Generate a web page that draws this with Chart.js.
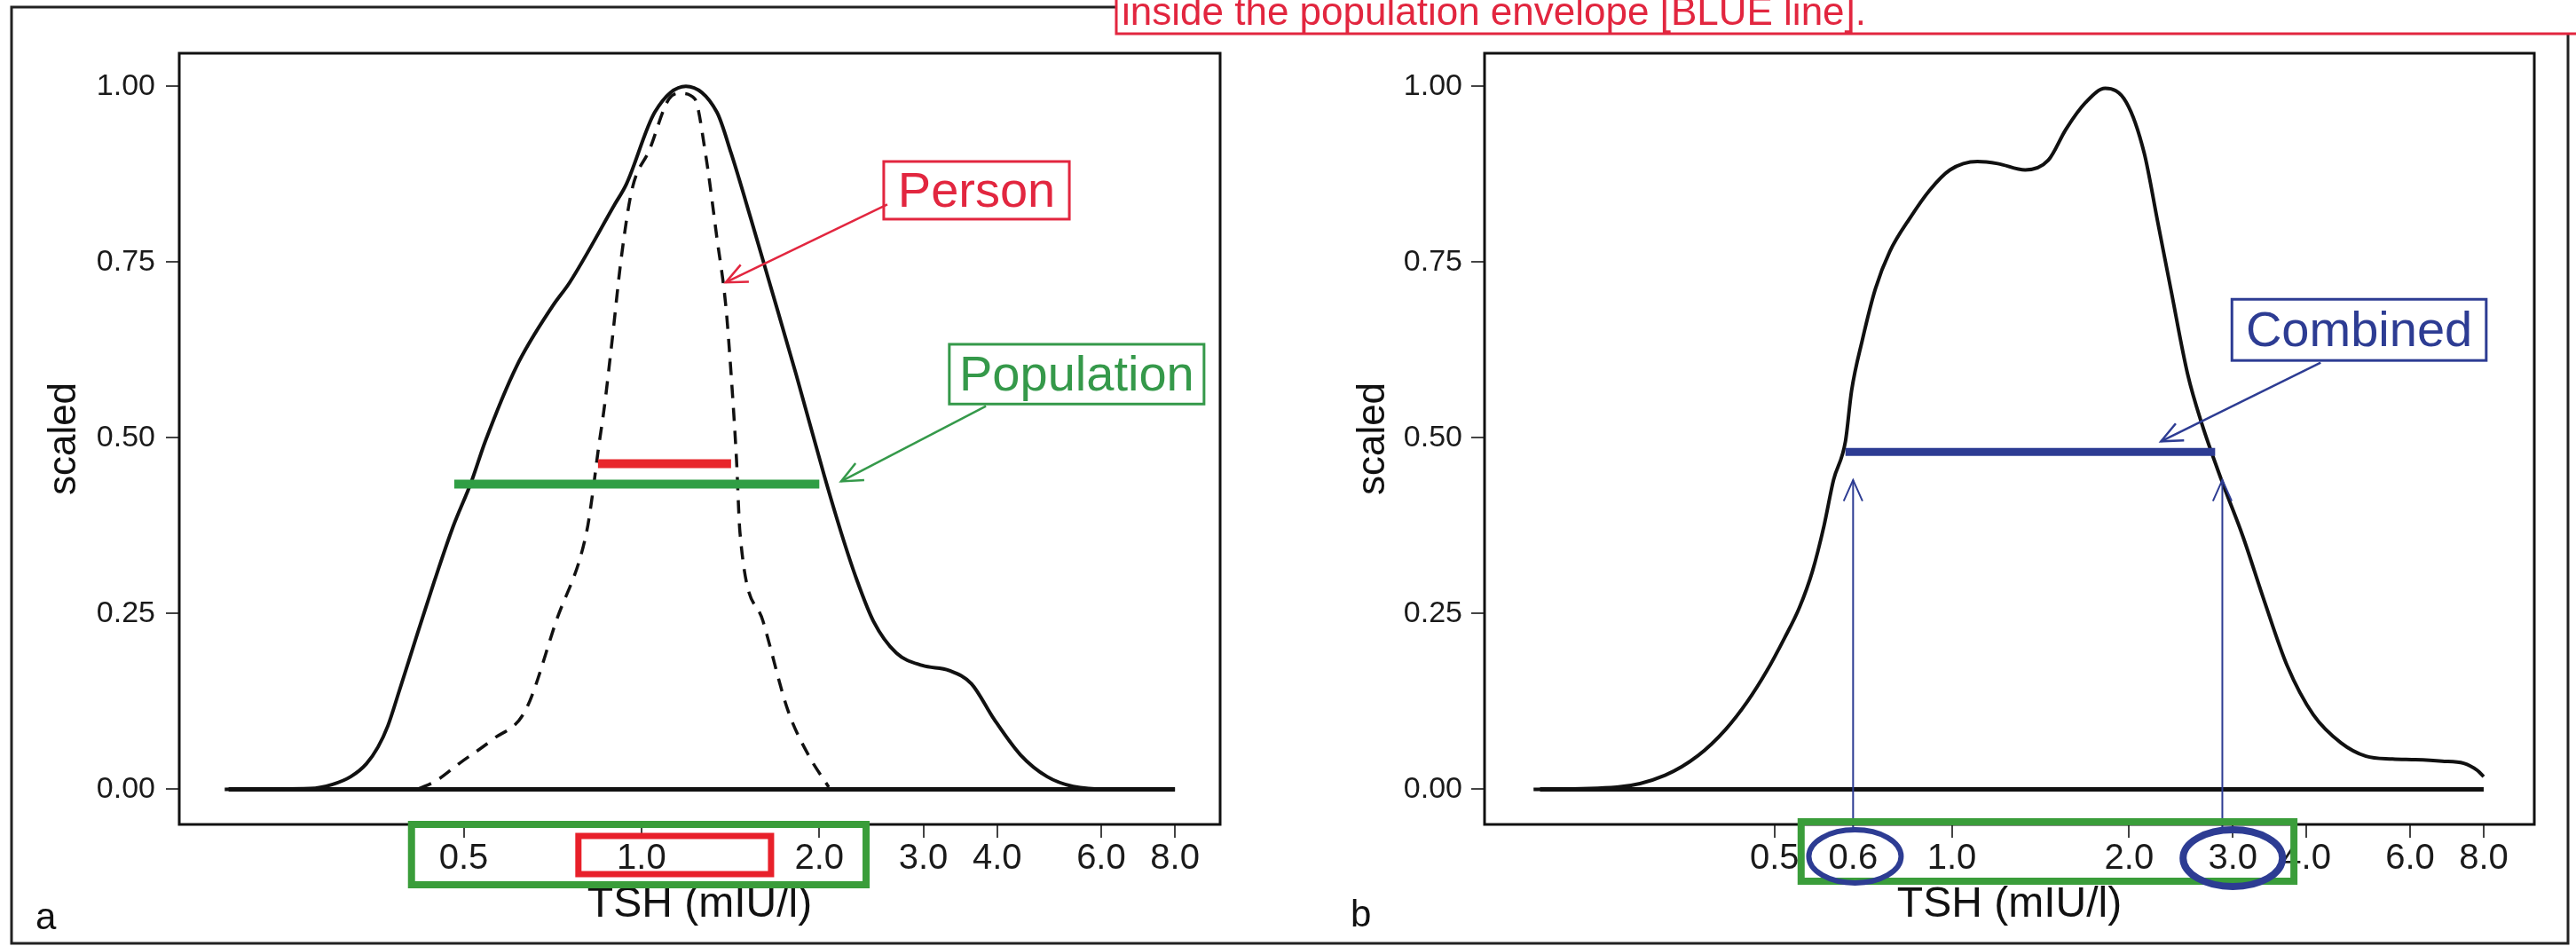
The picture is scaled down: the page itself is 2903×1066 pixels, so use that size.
<!DOCTYPE html>
<html>
<head>
<meta charset="utf-8">
<script src="https://cdn.jsdelivr.net/npm/chart.js@4.4.0/dist/chart.umd.min.js"></script>
<style>
  html, body { margin: 0; padding: 0; background: #fff; }
  #wrap { position: relative; width: 2903px; height: 1066px; }
  canvas { position: absolute; left: 0; top: 0; }
</style>
</head>
<body>
<div id="wrap">
  <canvas id="chartA" width="2903" height="1066"></canvas>
  <canvas id="chartB" width="2903" height="1066"></canvas>
</div>
<script>
// ---- data ----
const xTicks = [0.5, 1, 2, 3, 4, 6, 8];
const yTicks = [0, 0.25, 0.5, 0.75, 1];
const baseX = [0.2, 8];

// panel a: population density (solid) and one person (dashed)
const popX = [0.197, 0.275, 0.3, 0.322, 0.342, 0.358, 0.372, 0.389, 0.417, 0.446, 0.479, 0.515, 0.544, 0.614, 0.708, 0.756, 0.901, 0.943, 1.053, 1.189, 1.342, 1.418, 1.53, 1.64, 1.826, 2.039, 2.178, 2.31, 2.47, 2.7, 2.99, 3.32, 3.62, 3.95, 4.38, 4.86, 5.38, 6.2, 8.0];
const popY = [0, 0.001, 0.007, 0.018, 0.036, 0.06, 0.09, 0.14, 0.22, 0.296, 0.372, 0.437, 0.495, 0.601, 0.688, 0.721, 0.832, 0.861, 0.963, 1.0, 0.963, 0.905, 0.813, 0.726, 0.591, 0.446, 0.365, 0.3, 0.239, 0.194, 0.176, 0.169, 0.15, 0.1, 0.049, 0.018, 0.004, 0, 0];
const personX = [0.42, 0.447, 0.492, 0.56, 0.636, 0.717, 0.807, 0.827, 0.844, 0.865, 0.892, 0.924, 0.963, 1.032, 1.113, 1.164, 1.231, 1.283, 1.342, 1.389, 1.418, 1.448, 1.468, 1.606, 1.77, 1.916, 2.075];
const personY = [0.001, 0.011, 0.037, 0.071, 0.112, 0.239, 0.365, 0.422, 0.48, 0.543, 0.639, 0.755, 0.852, 0.91, 0.982, 0.99, 0.982, 0.905, 0.784, 0.688, 0.591, 0.47, 0.365, 0.239, 0.112, 0.049, 0.003];
const personRange = [0.844, 1.418], personLevel = 0.463;
const popRange = [0.482, 2.0], popLevel = 0.434;

// panel b: combined density
const combX = [0.195, 0.27, 0.326, 0.371, 0.413, 0.45, 0.485, 0.52, 0.551, 0.58, 0.607, 0.63, 0.66, 0.676, 0.705, 0.742, 0.785, 0.85, 0.917, 0.993, 1.106, 1.197, 1.333, 1.459, 1.563, 1.688, 1.822, 1.979, 2.122, 2.236, 2.354, 2.514, 2.658, 2.87, 3.12, 3.39, 3.71, 4.11, 4.58, 5.05, 5.6, 6.13, 6.8, 7.4, 7.8, 8.0];
const combY = [0, 0.003, 0.02, 0.048, 0.085, 0.125, 0.168, 0.215, 0.258, 0.31, 0.375, 0.44, 0.495, 0.567, 0.639, 0.712, 0.765, 0.813, 0.852, 0.881, 0.893, 0.89, 0.881, 0.895, 0.939, 0.977, 0.997, 0.977, 0.905, 0.808, 0.712, 0.591, 0.52, 0.44, 0.36, 0.269, 0.176, 0.106, 0.066, 0.047, 0.043, 0.042, 0.04, 0.037, 0.027, 0.018];
const combRange = [0.66, 2.8], combLevel = 0.48;
const combLimits = [0.68, 2.88], limitArrowTop = 0.44, limitLineFoot = -0.056;

const FONT = '"Liberation Sans", Arial, Helvetica, sans-serif';
const RED = '#e2263f', GREEN = '#35994a', BLUE = '#2d3c93';

const pts = (xs, ys) => xs.map((x, i) => ({ x, y: ys[i] }));
const flat = (xs, level) => xs.map(x => ({ x, y: level }));

function arrowHead(ctx, x1, y1, x2, y2, len) {
  const a = Math.atan2(y2 - y1, x2 - x1);
  ctx.beginPath();
  ctx.moveTo(x2 - len * Math.cos(a - 0.42), y2 - len * Math.sin(a - 0.42));
  ctx.lineTo(x2, y2);
  ctx.lineTo(x2 - len * Math.cos(a + 0.42), y2 - len * Math.sin(a + 0.42));
  ctx.stroke();
}

// boxed callout with an arrow, in data units
function callout(chart, n) {
  const { ctx, scales: { x, y } } = chart;
  const l = x.getPixelForValue(n.box[0]), r = x.getPixelForValue(n.box[1]);
  const t = y.getPixelForValue(n.box[3]), b = y.getPixelForValue(n.box[2]);
  ctx.save();
  ctx.fillStyle = '#fff';
  ctx.fillRect(l, t, r - l, b - t);
  ctx.strokeStyle = n.color; ctx.lineWidth = 3;
  ctx.strokeRect(l, t, r - l, b - t);
  ctx.font = '56px ' + FONT;
  ctx.fillStyle = n.color; ctx.textAlign = 'center'; ctx.textBaseline = 'middle';
  ctx.fillText(n.text, (l + r) / 2, (t + b) / 2 + 3);
  const x1 = x.getPixelForValue(n.from[0]), y1 = y.getPixelForValue(n.from[1]);
  const x2 = x.getPixelForValue(n.to[0]), y2 = y.getPixelForValue(n.to[1]);
  ctx.lineWidth = 2.5;
  ctx.beginPath(); ctx.moveTo(x1, y1); ctx.lineTo(x2, y2); ctx.stroke();
  arrowHead(ctx, x1, y1, x2, y2, 26);
  ctx.restore();
}

// rectangle under the x tick labels: x in data units, y in px below the plot
function tickBox(chart, x0, x1, dy0, dy1, color, lw) {
  const { ctx, scales: { x }, chartArea: a } = chart;
  const l = x.getPixelForValue(x0), r = x.getPixelForValue(x1);
  ctx.save();
  ctx.strokeStyle = color; ctx.lineWidth = lw;
  ctx.strokeRect(l, a.bottom + dy0, r - l, dy1 - dy0);
  ctx.restore();
}

function tickRing(chart, xv, dy, rx, ry, lw) {
  const { ctx, scales: { x }, chartArea: a } = chart;
  ctx.save();
  ctx.strokeStyle = BLUE; ctx.lineWidth = lw;
  ctx.beginPath();
  ctx.ellipse(x.getPixelForValue(xv), a.bottom + dy, rx, ry, 0, 0, Math.PI * 2);
  ctx.stroke();
  ctx.restore();
}

function panelBox(chart, letter, lx, ly) {
  const { ctx, chartArea: a } = chart;
  ctx.save();
  ctx.strokeStyle = '#111'; ctx.lineWidth = 3;
  ctx.strokeRect(a.left, a.top, a.right - a.left, a.bottom - a.top);
  ctx.fillStyle = '#111'; ctx.font = '42px ' + FONT;
  ctx.textAlign = 'left'; ctx.textBaseline = 'alphabetic';
  ctx.fillText(letter, lx, ly);
  ctx.restore();
}

function scalesFor(xMin, xMax, yWidth, titlePad, labelPad) {
  const grid = { drawOnChartArea: false, drawTicks: true, tickLength: 15, color: '#444', lineWidth: 2 };
  return {
    x: {
      type: 'logarithmic', min: xMin, max: xMax,
      afterBuildTicks: s => { s.ticks = xTicks.map(v => ({ value: v })); },
      afterFit: s => { s.height = 137; },
      ticks: { callback: v => Number(v).toFixed(1), autoSkip: false, maxRotation: 0, padding: 0,
               color: '#1a1a1a', font: { size: 40, family: FONT } },
      grid: grid, border: { display: false },
      title: { display: true, text: 'TSH (mIU/l)', color: '#111', font: { size: 48, family: FONT },
               padding: { top: 0, bottom: 17 } }
    },
    y: {
      min: -0.05, max: 1.047,
      afterBuildTicks: s => { s.ticks = yTicks.map(v => ({ value: v })); },
      afterFit: s => { s.width = yWidth; },
      ticks: { callback: v => Number(v).toFixed(2), padding: labelPad, color: '#1a1a1a',
               font: { size: 34, family: FONT } },
      grid: grid, border: { display: false },
      title: { display: true, text: 'scaled', color: '#111', font: { size: 44, family: FONT },
               padding: { top: titlePad, bottom: 0 } }
    }
  };
}

const common = { responsive: false, animation: false, events: [], devicePixelRatio: 1 };
const lineDefaults = { pointRadius: 0, fill: false, cubicInterpolationMode: 'monotone' };

// ---- panel a ----
new Chart(document.getElementById('chartA'), {
  type: 'line',
  data: {
    datasets: [
      { ...lineDefaults, data: flat(personRange, personLevel), borderColor: '#e8262b', borderWidth: 10, borderCapStyle: 'butt' },
      { ...lineDefaults, data: flat(popRange, popLevel), borderColor: '#2f9e44', borderWidth: 10, borderCapStyle: 'butt' },
      { ...lineDefaults, data: pts(personX, personY), borderColor: '#111', borderWidth: 3.5, borderDash: [15, 11] },
      { ...lineDefaults, data: pts(popX, popY), borderColor: '#111', borderWidth: 4 },
      { ...lineDefaults, data: flat(baseX, 0), borderColor: '#111', borderWidth: 5 }
    ]
  },
  options: {
    ...common,
    parsing: false,
    layout: { padding: { left: 0, top: 60, right: 2903 - 1375, bottom: 0 } },
    scales: scalesFor(0.165, 9.54, 202, 46, 12),
    plugins: { legend: { display: false }, tooltip: { enabled: false } }
  },
  plugins: [{
    id: 'panelA',
    beforeDraw(chart) {
      const ctx = chart.ctx;
      ctx.save();
      ctx.fillStyle = '#fff'; ctx.fillRect(0, 0, 2903, 1066);
      // outer frame of the figure
      ctx.strokeStyle = '#222'; ctx.lineWidth = 3;
      ctx.beginPath();
      ctx.moveTo(1258, 8); ctx.lineTo(13, 8); ctx.lineTo(13, 1063); ctx.lineTo(2894, 1063); ctx.lineTo(2894, 38);
      ctx.stroke();
      // red note cut off at the top
      ctx.fillStyle = '#fff'; ctx.fillRect(1258, 0, 1660, 38);
      ctx.strokeStyle = RED; ctx.lineWidth = 3;
      ctx.strokeRect(1258, -10, 1700, 48);
      ctx.fillStyle = RED; ctx.font = '44px ' + FONT;
      ctx.textAlign = 'left'; ctx.textBaseline = 'alphabetic';
      ctx.fillText('inside the population envelope [BLUE line].', 1264, 28);
      ctx.restore();
    },
    afterDraw(chart) {
      panelBox(chart, 'a', 40, 1047);
      callout(chart, { text: 'Person', color: RED, box: [2.571, 5.3, 0.811, 0.893], from: [2.607, 0.832], to: [1.389, 0.721] });
      callout(chart, { text: 'Population', color: GREEN, box: [3.32, 8.96, 0.548, 0.633], from: [3.83, 0.545], to: [2.178, 0.438] });
      tickBox(chart, 0.408, 2.4, 0, 68, '#3a9d3a', 8);
      tickBox(chart, 0.782, 1.657, 13, 56, '#e8202a', 7);
    }
  }]
});

// ---- panel b ----
new Chart(document.getElementById('chartB'), {
  type: 'line',
  data: {
    datasets: [
      { ...lineDefaults, data: flat(combRange, combLevel), borderColor: BLUE, borderWidth: 9, borderCapStyle: 'butt' },
      { ...lineDefaults, data: [{ x: combLimits[0], y: limitLineFoot }, { x: combLimits[0], y: limitArrowTop }], borderColor: BLUE, borderWidth: 2, clip: false },
      { ...lineDefaults, data: [{ x: combLimits[1], y: limitLineFoot }, { x: combLimits[1], y: limitArrowTop }], borderColor: BLUE, borderWidth: 2, clip: false },
      { ...lineDefaults, data: pts(combX, combY), borderColor: '#111', borderWidth: 4 },
      { ...lineDefaults, data: flat(baseX, 0), borderColor: '#111', borderWidth: 5 }
    ]
  },
  options: {
    ...common,
    parsing: false,
    layout: { padding: { left: 1450, top: 60, right: 2903 - 2856, bottom: 0 } },
    scales: scalesFor(0.161, 9.75, 223, 71, 10),
    plugins: { legend: { display: false }, tooltip: { enabled: false } }
  },
  plugins: [{
    id: 'panelB',
    afterDraw(chart) {
      const { ctx, scales: { x, y }, chartArea: a } = chart;
      panelBox(chart, 'b', 1522, 1044);
      // arrow heads on the two limit lines
      ctx.save();
      ctx.strokeStyle = BLUE; ctx.lineWidth = 2;
      combLimits.forEach(v => {
        const px = x.getPixelForValue(v);
        arrowHead(ctx, px, y.getPixelForValue(0), px, y.getPixelForValue(limitArrowTop), 26);
      });
      // extra tick label for the lower limit
      ctx.fillStyle = '#1a1a1a'; ctx.font = '40px ' + FONT;
      ctx.textAlign = 'center'; ctx.textBaseline = 'middle';
      ctx.fillText('0.6', x.getPixelForValue(combLimits[0]), a.bottom + 39);
      ctx.restore();
      callout(chart, { text: 'Combined', color: BLUE, box: [2.99, 8.08, 0.61, 0.697], from: [4.23, 0.607], to: [2.266, 0.495] });
      tickBox(chart, 0.555, 3.81, -3, 64, '#3a9d3a', 8);
      tickRing(chart, 0.685, 36, 52, 30, 6);
      tickRing(chart, 3.0, 38, 56, 32, 8);
    }
  }]
});
</script>
</body>
</html>
